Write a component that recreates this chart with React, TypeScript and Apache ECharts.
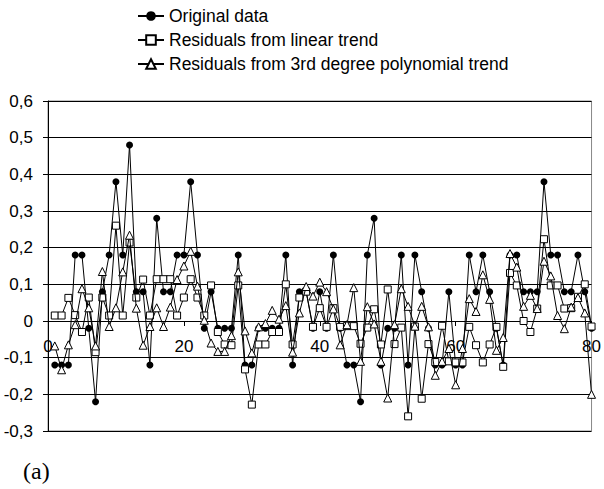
import React, { useEffect, useRef } from "react";
import * as echarts from "echarts";

const original = [
  -0.12, -0.12, -0.12, 0.18, 0.18, -0.02, -0.22, 0.08, 0.18, 0.38,
  0.18, 0.48, 0.08, 0.08, -0.12, 0.28, 0.08, 0.08, 0.18, 0.18,
  0.38, 0.18, -0.02, 0.08, -0.02, -0.02, -0.02, 0.18, -0.12, -0.12,
  -0.02, -0.02, -0.02, -0.02, 0.18, -0.12, 0.08, 0.08, -0.02, 0.08,
  -0.02, 0.18, -0.02, -0.12, -0.12, -0.22, 0.18, 0.28, -0.12, -0.02,
  -0.02, 0.18, -0.12, 0.18, 0.08, -0.02, -0.12, -0.12, 0.08, -0.12,
  -0.12, 0.18, 0.08, 0.18, 0.08, -0.02, -0.12, 0.18, 0.18, 0.08,
  0.08, 0.08, 0.38, 0.18, 0.18, 0.08, 0.08, 0.18, 0.08, -0.02,
];

const linearResid = [
  0.015, 0.015, 0.063, 0.016, -0.03, 0.064, -0.085, 0.064, 0.015, 0.26,
  0.015, 0.214, 0.064, 0.113, 0.015, 0.114, 0.114, 0.114, 0.015, 0.064,
  0.114, 0.064, 0.015, 0.097, -0.03, -0.064, -0.066, 0.097, -0.132, -0.228,
  -0.064, -0.064, -0.03, -0.03, 0.1, -0.064, 0.064, 0.08, -0.016, 0.035,
  -0.016, 0.035, -0.016, -0.014, -0.014, -0.062, -0.018, 0.032, -0.064, 0.086,
  -0.063, -0.018, -0.26, -0.015, -0.212, -0.063, -0.112, -0.013, -0.11, -0.113,
  -0.113, -0.016, -0.066, -0.113, -0.064, -0.016, -0.125, 0.131, 0.097, 0.0,
  -0.03, 0.034, 0.223, 0.097, 0.097, 0.034, 0.035, 0.066, 0.1, -0.015,
];

const polyResid = [
  -0.068, -0.133, -0.065, -0.01, 0.088, 0.036, -0.068, 0.135, -0.015, 0.036,
  0.134, 0.234, 0.035, -0.066, -0.015, 0.036, -0.015, 0.038, 0.113, 0.15,
  0.19, 0.095, 0.002, -0.06, -0.083, -0.083, -0.04, 0.134, -0.027, -0.087,
  -0.016, -0.007, 0.029, 0.005, 0.042, -0.085, 0.022, 0.094, 0.068, 0.106,
  0.08, 0.033, -0.065, -0.01, 0.091, -0.11, 0.039, -0.008, -0.11, -0.21,
  -0.01, 0.088, 0.04, -0.014, 0.04, -0.016, -0.148, -0.11, -0.075, -0.174,
  -0.075, 0.061, 0.026, 0.126, 0.059, -0.08, -0.045, 0.184, 0.147, 0.04,
  0.07, 0.034, 0.163, 0.123, 0.015, -0.021, 0.038, 0.064, 0.022, -0.2,
];

const seriesNames = [
  "Original data",
  "Residuals from linear trend",
  "Residuals from 3rd degree polynomial trend",
];

const panelLabel = "(a)";

const Y_MIN = -0.3;
const Y_MAX = 0.6;
const GRID_TOP = 101;
const GRID_BOTTOM = 58;
const CHART_H = 489;

const toPairs = (arr: number[]) => arr.map((v, i) => [i + 1, v]);
const fmt = (v: number) => String(Math.round(v * 10) / 10).replace(".", ",");

const FONT = "'Liberation Sans', Arial, sans-serif";

export default function App() {
  const ref = useRef<HTMLDivElement>(null);
  useEffect(() => {
    if (!ref.current) return;
    const chart = echarts.init(ref.current, undefined, { renderer: "svg" });
    const baseLine = { color: "#000", width: 1 };
    const plotH = CHART_H - GRID_TOP - GRID_BOTTOM;
    // move the x axis up so that it crosses the value axis at zero
    const zeroOffset = -((0 - Y_MIN) / (Y_MAX - Y_MIN)) * plotH;
    chart.setOption({
      animation: false,
      backgroundColor: "#fff",
      textStyle: { fontFamily: FONT },
      legend: {
        orient: "vertical",
        left: 132,
        top: 2,
        itemWidth: 26,
        itemHeight: 12,
        itemGap: 6,
        textStyle: { fontSize: 17.5, color: "#000", fontFamily: FONT },
        data: seriesNames,
      },
      grid: {
        left: 48,
        right: 8,
        top: GRID_TOP,
        bottom: GRID_BOTTOM,
        show: true,
        borderColor: "#888",
        borderWidth: 1,
      },
      xAxis: {
        type: "value",
        min: 0,
        max: 80,
        interval: 20,
        offset: zeroOffset,
        axisLine: { onZero: false, lineStyle: { color: "#000", width: 1 } },
        axisTick: { show: true, length: 5, lineStyle: { color: "#000" } },
        axisLabel: { color: "#000", fontSize: 17, margin: 17, fontFamily: FONT },
        splitLine: { show: false },
      },
      yAxis: {
        type: "value",
        min: Y_MIN,
        max: Y_MAX,
        interval: 0.1,
        axisLine: { show: true, onZero: false, lineStyle: { color: "#000", width: 1 } },
        axisTick: { show: true, length: 5, lineStyle: { color: "#000" } },
        axisLabel: {
          color: "#000",
          fontSize: 17,
          margin: 15,
          fontFamily: FONT,
          formatter: (v: number) => fmt(v),
        },
        splitLine: { show: true, lineStyle: { color: "#000", width: 1 } },
      },
      series: [
        {
          name: seriesNames[0],
          type: "line",
          data: toPairs(original),
          symbol: "circle",
          symbolSize: 7,
          lineStyle: baseLine,
          itemStyle: { color: "#000", borderColor: "#000", borderWidth: 0 },
          z: 2,
        },
        {
          name: seriesNames[1],
          type: "line",
          data: toPairs(linearResid),
          symbol: "rect",
          symbolSize: 7,
          lineStyle: baseLine,
          itemStyle: { color: "#fff", borderColor: "#000", borderWidth: 1 },
          z: 3,
        },
        {
          name: seriesNames[2],
          type: "line",
          data: toPairs(polyResid),
          symbol: "triangle",
          symbolSize: 8,
          lineStyle: baseLine,
          itemStyle: { color: "#fff", borderColor: "#000", borderWidth: 1 },
          z: 4,
        },
      ],
      graphic: [
        {
          type: "text",
          left: 23,
          top: 459,
          style: {
            text: panelLabel,
            fontSize: 24,
            fontFamily: "'Liberation Serif', 'Times New Roman', serif",
            fill: "#000",
          },
        },
      ],
    });
    return () => chart.dispose();
  }, []);
  return (
    <div
      ref={ref}
      style={{ position: "fixed", left: 0, top: 0, width: 604, height: 489, background: "#fff" }}
    />
  );
}
